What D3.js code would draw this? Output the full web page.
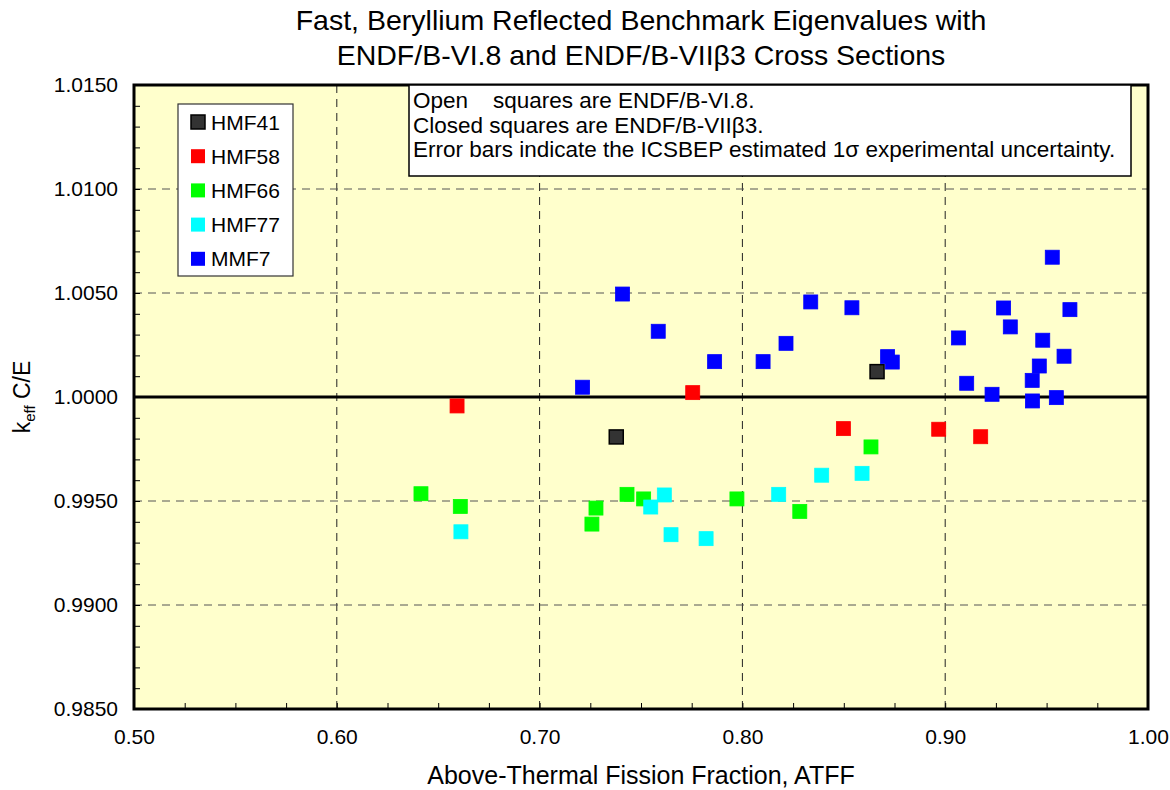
<!DOCTYPE html>
<html>
<head>
<meta charset="utf-8">
<script src="https://cdn.jsdelivr.net/npm/d3@7"></script>
<style>
  body { margin: 0; background: #fff; }
  svg { font-family: "Liberation Sans", Arial, sans-serif; }
</style>
</head>
<body>
<div id="chart"></div>
<script>
const width = 1170;
const height = 790;
const margin = { top: 85, right: 22, bottom: 81, left: 134 };

// series data: ATFF (x) and keff C/E (y)
const seriesNames = ["HMF41", "HMF58", "HMF66", "HMF77", "MMF7"];
const seriesColors = ["#333333", "#ff0000", "#00ff00", "#00ffff", "#0000ff"];

const hmf41_x = [0.7378, 0.8664];
const hmf41_y = [0.99808, 1.00122];

const hmf58_x = [0.6593, 0.7755, 0.8498, 0.8968, 0.9175];
const hmf58_y = [0.99957, 1.00021, 0.99848, 0.99845, 0.99809];

const hmf66_x = [0.6415, 0.6609, 0.7258, 0.7278, 0.7431, 0.7513, 0.7973, 0.8283, 0.8634];
const hmf66_y = [0.99535, 0.99474, 0.99389, 0.99466, 0.99532, 0.99510, 0.99510, 0.99450, 0.99760];

const hmf77_x = [0.6612, 0.7548, 0.7615, 0.7648, 0.7821, 0.8179, 0.8391, 0.8590];
const hmf77_y = [0.99352, 0.99471, 0.99529, 0.99338, 0.99319, 0.99532, 0.99624, 0.99633];

const mmf7_x = [0.7212, 0.7409, 0.7585, 0.7863, 0.8102, 0.8215, 0.8337, 0.8540, 0.8716, 0.8739,
  0.9066, 0.9106, 0.9231, 0.9288, 0.9321, 0.9429, 0.9430, 0.9464, 0.9481, 0.9528, 0.9548, 0.9586, 0.9615];
const mmf7_y = [1.00047, 1.00495, 1.00316, 1.00170, 1.00170, 1.00258, 1.00457, 1.00429, 1.00194, 1.00168,
  1.00284, 1.00066, 1.00013, 1.00428, 1.00337, 1.00080, 0.99981, 1.00149, 1.00273, 1.00672, 0.99997, 1.00196, 1.00420];

const xTicks = [0.5, 0.6, 0.7, 0.8, 0.9, 1.0];
const yTicks = [0.985, 0.99, 0.995, 1.0, 1.005, 1.01, 1.015];

const titleLines = [
  "Fast, Beryllium Reflected Benchmark Eigenvalues with",
  "ENDF/B-VI.8 and ENDF/B-VIIβ3 Cross Sections"
];
const noteLines = [
  "Open    squares are ENDF/B-VI.8.",
  "Closed squares are ENDF/B-VIIβ3.",
  "Error bars indicate the ICSBEP estimated 1σ experimental uncertainty."
];

const allX = [hmf41_x, hmf58_x, hmf66_x, hmf77_x, mmf7_x];
const allY = [hmf41_y, hmf58_y, hmf66_y, hmf77_y, mmf7_y];
const series = seriesNames.map((name, i) => ({
  name: name,
  color: seriesColors[i],
  points: allX[i].map((x, j) => ({ x: x, y: allY[i][j] }))
}));

const svg = d3.select("#chart").append("svg")
  .attr("width", width)
  .attr("height", height);

const plotW = width - margin.left - margin.right;
const plotH = height - margin.top - margin.bottom;

const x = d3.scaleLinear().domain([0.5, 1.0]).range([margin.left, margin.left + plotW]);
const y = d3.scaleLinear().domain([0.985, 1.015]).range([margin.top + plotH, margin.top]);

// plot background
svg.append("rect")
  .attr("x", margin.left).attr("y", margin.top)
  .attr("width", plotW).attr("height", plotH)
  .attr("fill", "#ffffcc");

// dashed grid
const grid = svg.append("g").attr("stroke", "#222").attr("stroke-width", 1).attr("stroke-dasharray", "8,6");
grid.selectAll(".vg").data(xTicks.slice(1, -1)).enter().append("line")
  .attr("x1", d => x(d)).attr("x2", d => x(d))
  .attr("y1", margin.top).attr("y2", margin.top + plotH);
grid.selectAll(".hg").data(yTicks.filter(d => d !== 1.0).slice(1, -1)).enter().append("line")
  .attr("x1", margin.left).attr("x2", margin.left + plotW)
  .attr("y1", d => y(d)).attr("y2", d => y(d))
  .attr("stroke", "#555");

// unity line
svg.append("line")
  .attr("x1", margin.left).attr("x2", margin.left + plotW)
  .attr("y1", y(1.0)).attr("y2", y(1.0))
  .attr("stroke", "#000").attr("stroke-width", 3);

// minor ticks (inward)
const xMinor = d3.range(0, 21).map(i => 0.5 + i * 0.025);
const yMinor = d3.range(0, 31).map(i => 0.985 + i * 0.001);

svg.append("g")
  .attr("transform", `translate(0,${margin.top + plotH})`)
  .call(d3.axisBottom(x).tickValues(xMinor).tickSize(-6).tickFormat(""))
  .call(g => g.select(".domain").remove());
svg.append("g")
  .attr("transform", `translate(${margin.left},0)`)
  .call(d3.axisLeft(y).tickValues(yMinor).tickSize(-6).tickFormat(""))
  .call(g => g.select(".domain").remove());

// frame
svg.append("rect")
  .attr("x", margin.left).attr("y", margin.top)
  .attr("width", plotW).attr("height", plotH)
  .attr("fill", "none").attr("stroke", "#000").attr("stroke-width", 3);

// tick labels
const xAxis = svg.append("g")
  .attr("transform", `translate(0,${margin.top + plotH})`)
  .call(d3.axisBottom(x).tickValues(xTicks).tickSize(0).tickPadding(20).tickFormat(d3.format(".2f")));
xAxis.select(".domain").remove();
xAxis.selectAll("text").attr("font-size", 21).attr("fill", "#000").attr("font-family", null);

const yAxis = svg.append("g")
  .attr("transform", `translate(${margin.left},0)`)
  .call(d3.axisLeft(y).tickValues(yTicks).tickSize(0).tickPadding(16).tickFormat(d3.format(".4f")));
yAxis.select(".domain").remove();
yAxis.selectAll("text").attr("font-size", 21).attr("fill", "#000").attr("font-family", null);

// markers
const sz = 14;
series.forEach(s => {
  svg.append("g").selectAll("rect").data(s.points).enter().append("rect")
    .attr("x", d => x(d.x) - sz / 2)
    .attr("y", d => y(d.y) - sz / 2)
    .attr("width", sz).attr("height", sz)
    .attr("fill", s.color)
    .attr("stroke", s.name === "HMF41" ? "#000" : d3.color(s.color).brighter(0.6))
    .attr("stroke-width", s.name === "HMF41" ? 1.5 : 0.8);
});

// legend
const legend = svg.append("g");
legend.append("rect")
  .attr("x", 178).attr("y", 104).attr("width", 115).attr("height", 172)
  .attr("fill", "#fff").attr("stroke", "#333").attr("stroke-width", 1.2);
series.forEach((s, i) => {
  const cy = 122 + i * 34.2;
  legend.append("rect")
    .attr("x", 191).attr("y", cy - 7).attr("width", 14).attr("height", 14)
    .attr("fill", s.color)
    .attr("stroke", s.name === "HMF41" ? "#000" : "none").attr("stroke-width", 1.5);
  legend.append("text")
    .attr("x", 211).attr("y", cy).attr("dy", "0.36em")
    .attr("font-size", 21).text(s.name);
});

// note box
const note = svg.append("g");
note.append("rect")
  .attr("x", 409).attr("y", 85).attr("width", 722).attr("height", 91)
  .attr("fill", "#fff").attr("stroke", "#000").attr("stroke-width", 1.5);
noteLines.forEach((t, i) => {
  note.append("text")
    .attr("x", 413).attr("y", 108 + i * 24.6)
    .attr("font-size", 22.5).attr("xml:space", "preserve")
    .style("white-space", "pre")
    .text(t);
});

// title
titleLines.forEach((t, i) => {
  svg.append("text")
    .attr("x", 641).attr("y", 30 + i * 35)
    .attr("text-anchor", "middle")
    .attr("font-size", 28.5)
    .text(t);
});

// axis titles
svg.append("text")
  .attr("x", 641).attr("y", 784)
  .attr("text-anchor", "middle").attr("font-size", 25)
  .text("Above-Thermal Fission Fraction, ATFF");

const yl = svg.append("text")
  .attr("transform", `translate(30,${y(1.0)}) rotate(-90)`)
  .attr("text-anchor", "middle").attr("font-size", 23);
yl.append("tspan").text("k");
yl.append("tspan").attr("font-size", 15).attr("dy", 5).text("eff");
yl.append("tspan").attr("dy", -5).text(" C/E");
</script>
</body>
</html>
